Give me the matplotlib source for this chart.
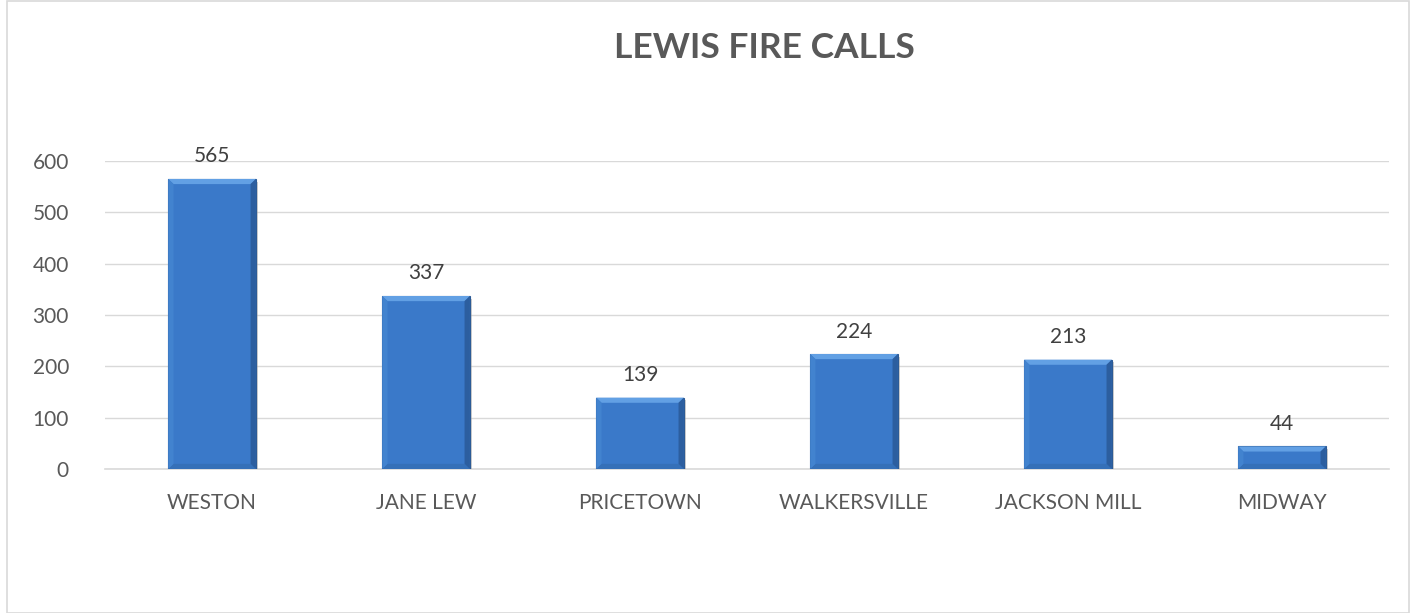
import matplotlib.pyplot as plt
import matplotlib.patheffects as pe
from matplotlib.patches import Polygon, Rectangle

# data
stations = ["WESTON", "JANE LEW", "PRICETOWN", "WALKERSVILLE", "JACKSON MILL", "MIDWAY"]
calls = [565, 337, 139, 224, 213, 44]
y_ticks = [0, 100, 200, 300, 400, 500, 600]

plt.rcParams['font.family'] = ['Lato', 'DejaVu Sans']
grey = "#595959"

fig = plt.figure(figsize=(14.12, 6.13), dpi=100)
ax = fig.add_axes([0.0744, 0.2349, 0.9093, 0.5025])

# outer chart border
fig.patches.append(Rectangle((0.005, 0.0), 0.993, 0.999, transform=fig.transFigure,
                             fill=False, edgecolor="#d9d9d9", linewidth=1.2))

x = range(len(stations))
bw = 0.41
bars = ax.bar(x, calls, width=bw, color="#3a79c9", edgecolor="#2c5b96", linewidth=0.8,
              zorder=3, path_effects=[pe.SimplePatchShadow(offset=(1.5, -2), shadow_rgbFace="#a0a0a0", alpha=0.5),
                                      pe.Normal()])

# soft bevel on each bar
dx = 0.025
dy = 10
for b in bars:
    x0, w, h = b.get_x(), b.get_width(), b.get_height()
    x1 = x0 + w
    d = min(dy, h / 3)
    ax.add_patch(Polygon([(x0, h), (x1, h), (x1 - dx, h - d), (x0 + dx, h - d)],
                         closed=True, color="#62a0e4", zorder=4, lw=0))
    ax.add_patch(Polygon([(x0, 0), (x1, 0), (x1 - dx, d), (x0 + dx, d)],
                         closed=True, color="#3570b8", zorder=4, lw=0))
    ax.add_patch(Polygon([(x0, 0), (x0 + dx, d), (x0 + dx, h - d), (x0, h)],
                         closed=True, color="#4283cf", zorder=4, lw=0))
    ax.add_patch(Polygon([(x1, 0), (x1 - dx, d), (x1 - dx, h - d), (x1, h)],
                         closed=True, color="#2c5e9f", zorder=4, lw=0))
    ax.annotate(str(h), (b.get_x() + w / 2, h), xytext=(0, 9), textcoords="offset points",
                ha="center", va="bottom", fontsize=15, color="#404040")

ax.set_xlim(-0.5, len(stations) - 0.5)
ax.set_ylim(0, 600)
ax.set_yticks(y_ticks)
ax.set_xticks(list(x))
ax.set_xticklabels(stations)
ax.tick_params(axis="both", length=0, labelsize=15, labelcolor=grey)
ax.tick_params(axis="x", pad=17)
ax.tick_params(axis="y", pad=26)
ax.grid(axis="y", color="#d9d9d9", linewidth=1, zorder=0)
for s in ["top", "right", "left"]:
    ax.spines[s].set_visible(False)
ax.spines["bottom"].set_color("#d9d9d9")
ax.spines["bottom"].set_linewidth(1.2)
ax.set_axisbelow(True)

fig.text(0.541, 0.922, "LEWIS FIRE CALLS", ha="center", va="center",
         fontsize=25.5, fontweight="bold", color=grey)

fig.savefig("out.png", dpi=100)
